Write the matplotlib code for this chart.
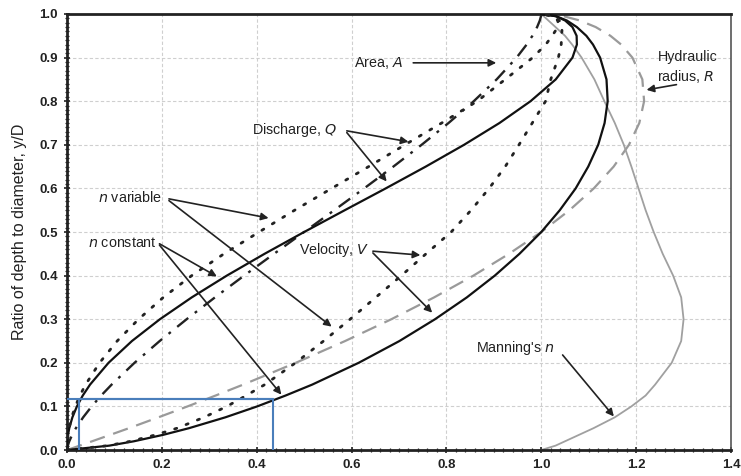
import matplotlib
matplotlib.use("Agg")
import matplotlib.pyplot as plt
from matplotlib.ticker import MultipleLocator

# ---- data (ratio to full-pipe value vs y/D) ----
depth = [0.0, 0.01, 0.02, 0.035, 0.05, 0.075, 0.1, 0.125, 0.15, 0.2, 0.25, 0.3,
         0.35, 0.4, 0.45, 0.5, 0.55, 0.6, 0.65, 0.7, 0.75, 0.8, 0.85, 0.9,
         0.93, 0.95, 0.97, 0.985, 0.995, 1.0]

area = [0.0, 0.0017, 0.0048, 0.011, 0.0187, 0.0341, 0.052, 0.0721, 0.0941, 0.1424,
        0.1955, 0.2523, 0.3119, 0.3735, 0.4365, 0.5, 0.5635, 0.6265, 0.6881, 0.7477,
        0.8045, 0.8576, 0.9059, 0.948, 0.9692, 0.9813, 0.9912, 0.9969, 0.9994, 1.0]

hyd_radius = [0.0, 0.0268, 0.0529, 0.0918, 0.1305, 0.1929, 0.2541, 0.3135, 0.3715, 0.4824,
              0.5865, 0.684, 0.774, 0.857, 0.932, 1.0, 1.0595, 1.1107, 1.1526, 1.1849,
              1.2067, 1.2168, 1.2131, 1.1921, 1.1683, 1.1458, 1.1148, 1.0814, 1.0466, 1.0]

vel_n_const = [0.0, 0.089, 0.141, 0.2035, 0.257, 0.334, 0.401, 0.461, 0.517, 0.615,
               0.701, 0.776, 0.843, 0.902, 0.954, 1.0, 1.039, 1.0725, 1.099, 1.12,
               1.1335, 1.14, 1.1375, 1.124, 1.109, 1.095, 1.075, 1.054, 1.031, 1.0]

dis_n_const = [0.0, 0.00015, 0.00067, 0.00224, 0.0048, 0.0114, 0.0209, 0.0333, 0.0486, 0.0876,
               0.137, 0.196, 0.263, 0.337, 0.4166, 0.5, 0.5857, 0.672, 0.7564, 0.8372,
               0.9119, 0.9774, 1.0305, 1.0658, 1.0751, 1.0745, 1.0657, 1.0503, 1.0304, 1.0]

manning_n = [1.0, 1.03, 1.05, 1.08, 1.11, 1.155, 1.19, 1.22, 1.24, 1.275,
             1.295, 1.30, 1.295, 1.278, 1.256, 1.237, 1.22, 1.205, 1.19, 1.174,
             1.155, 1.133, 1.112, 1.085, 1.065, 1.05, 1.03, 1.015, 1.005, 1.0]

vel_n_var = [0.0, 0.0864, 0.134, 0.188, 0.232, 0.289, 0.337, 0.378, 0.417, 0.482,
             0.541, 0.597, 0.651, 0.705, 0.757, 0.81, 0.852, 0.89, 0.924, 0.953,
             0.981, 1.009, 1.02, 1.036, 1.042, 1.043, 1.044, 1.038, 1.026, 1.0]

dis_n_var = [0.0, 0.00015, 0.00064, 0.00207, 0.00434, 0.00984, 0.0176, 0.0273, 0.0392, 0.0687,
             0.1058, 0.151, 0.203, 0.263, 0.331, 0.405, 0.48, 0.558, 0.636, 0.7125,
             0.79, 0.865, 0.924, 0.982, 1.0095, 1.023, 1.035, 1.035, 1.025, 1.0]

x_ticks = [0.0, 0.2, 0.4, 0.6, 0.8, 1.0, 1.2, 1.4]
y_ticks = [0.0, 0.1, 0.2, 0.3, 0.4, 0.5, 0.6, 0.7, 0.8, 0.9, 1.0]

# highlighted box (y/D = 0.12 example)
box_x = [0.026, 0.434]
box_y = 0.117

plt.rcParams['font.family'] = ['Liberation Sans', 'DejaVu Sans']

fig = plt.figure(figsize=(7.41, 4.76), dpi=100)
ax = fig.add_axes([0.0904, 0.0546, 0.8961, 0.916])

grid_kw = dict(color='#cfcfcf', lw=0.8, ls=(0, (3, 2)), zorder=0)
for xt in x_ticks[1:-1]:
    ax.axvline(xt, **grid_kw)
for yt in y_ticks[1:-1]:
    ax.axhline(yt, **grid_kw)

ax.plot(hyd_radius, depth, color='#9a9a9a', lw=1.6, ls=(0, (7, 4)), zorder=2)
ax.plot(manning_n, depth, color='#a0a0a0', lw=1.3, zorder=2)
ax.plot(area, depth, color='#222222', lw=1.7, ls=(0, (6, 3.5, 1.2, 3.5)), zorder=3)
ax.plot(dis_n_const, depth, color='#111111', lw=1.6, zorder=3)
ax.plot(vel_n_const, depth, color='#111111', lw=1.6, zorder=3)
ax.plot(dis_n_var, depth, color='#222222', lw=2.0, ls=(0, (0.8, 3.6)),
        dash_capstyle='round', zorder=3)
ax.plot(vel_n_var, depth, color='#222222', lw=2.0, ls=(0, (0.8, 3.6)),
        dash_capstyle='round', zorder=3)

# blue rectangle
ax.plot([box_x[0], box_x[0], box_x[1], box_x[1]], [0, box_y, box_y, 0],
        color='#4a7ebb', lw=1.5, zorder=4)
ax.plot([0, box_x[1]], [box_y, box_y], color='#4a7ebb', lw=1.5, zorder=4)

ax.set_xlim(0, 1.4)
ax.set_ylim(0, 1.0)
ax.set_xticks(x_ticks)
ax.set_yticks(y_ticks)
ax.set_xticklabels([f"{v:.1f}" for v in x_ticks])
ax.set_yticklabels([f"{v:.1f}" for v in y_ticks])
ax.xaxis.set_minor_locator(MultipleLocator(0.02))
ax.yaxis.set_minor_locator(MultipleLocator(0.01))
ax.tick_params(which='major', direction='inout', length=5, width=1.2,
               labelsize=9.5, colors='#222222', pad=4)
ax.tick_params(which='minor', direction='inout', length=3, width=0.9, colors='#222222')
for lab in ax.get_xticklabels() + ax.get_yticklabels():
    lab.set_fontweight('bold')

for side in ['left', 'bottom', 'top']:
    ax.spines[side].set_linewidth(2.0)
    ax.spines[side].set_color('#222222')
ax.spines['right'].set_linewidth(1.2)
ax.spines['right'].set_color('#555555')

ax.set_ylabel('Ratio of depth to diameter, y/D', fontsize=11.5, color='#222222', labelpad=9)

txt_kw = dict(fontsize=10.3, color='#222222')
arr_kw = dict(arrowstyle='-|>', color='#222222', lw=1.2, mutation_scale=11,
              shrinkA=0, shrinkB=0)

ax.text(0.606, 0.888, 'Area, $\\it{A}$', va='center', ha='left', **txt_kw)
ax.annotate('', xy=(0.905, 0.888), xytext=(0.73, 0.888), arrowprops=arr_kw)

ax.text(1.245, 0.878, 'Hydraulic\nradius, $\\it{R}$', va='center', ha='left',
        linespacing=1.3, **txt_kw)
ax.annotate('', xy=(1.222, 0.826), xytext=(1.285, 0.838), arrowprops=arr_kw)

ax.text(0.39, 0.734, 'Discharge, $\\it{Q}$', va='center', ha='left', **txt_kw)
ax.annotate('', xy=(0.72, 0.707), xytext=(0.59, 0.732), arrowprops=arr_kw)
ax.annotate('', xy=(0.674, 0.616), xytext=(0.59, 0.728), arrowprops=arr_kw)

ax.text(0.065, 0.58, '$\\it{n}$ variable', va='center', ha='left', **txt_kw)
ax.annotate('', xy=(0.425, 0.532), xytext=(0.215, 0.576), arrowprops=arr_kw)
ax.annotate('', xy=(0.558, 0.283), xytext=(0.215, 0.572), arrowprops=arr_kw)

ax.text(0.045, 0.475, '$\\it{n}$ constant', va='center', ha='left', **txt_kw)
ax.annotate('', xy=(0.316, 0.398), xytext=(0.195, 0.473), arrowprops=arr_kw)
ax.annotate('', xy=(0.452, 0.127), xytext=(0.195, 0.47), arrowprops=arr_kw)

ax.text(0.49, 0.459, 'Velocity, $\\it{V}$', va='center', ha='left', **txt_kw)
ax.annotate('', xy=(0.745, 0.447), xytext=(0.645, 0.456), arrowprops=arr_kw)
ax.annotate('', xy=(0.77, 0.315), xytext=(0.645, 0.452), arrowprops=arr_kw)

ax.text(0.862, 0.234, "Manning's $\\it{n}$", va='center', ha='left', **txt_kw)
ax.annotate('', xy=(1.153, 0.077), xytext=(1.045, 0.218), arrowprops=arr_kw)

fig.savefig('out.png', dpi=100)
